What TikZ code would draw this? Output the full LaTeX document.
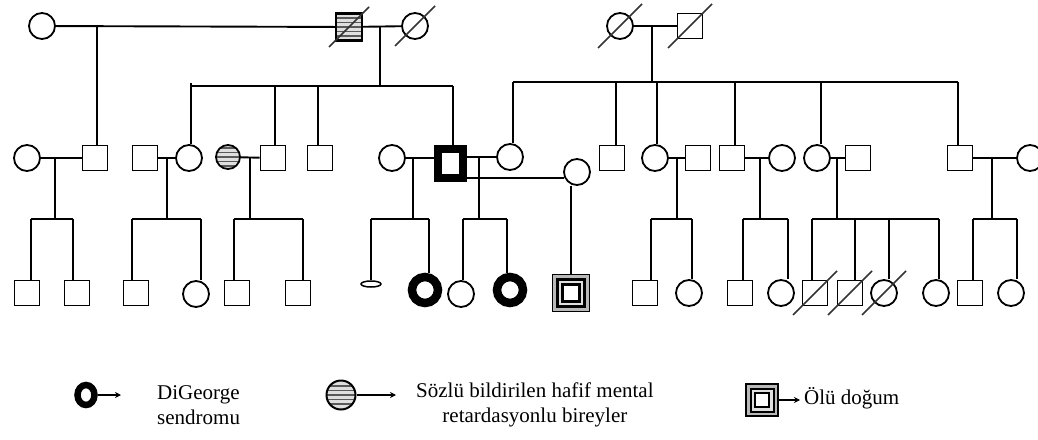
\documentclass[tikz,border=0pt]{standalone}
\usepackage{fontspec}
\setmainfont{Liberation Serif}
\usetikzlibrary{arrows.meta,shapes.geometric}
\tikzset{
  ln/.style={line width=1.9pt},
  male/.style={draw, line width=1.8pt, rectangle, minimum size=25pt, inner sep=0pt, fill=white},
  female/.style={draw, line width=1.8pt, circle, minimum size=26pt, inner sep=0pt, fill=white},
  boldc/.style={draw, circle, line width=8.5pt, minimum size=26pt, inner sep=0pt},
  stripes/.style={path picture={
    \fill[gray!25] (path picture bounding box.south west) rectangle (path picture bounding box.north east);
    \foreach \d in {-9,-4.5,0,4.5,9}{\draw[black!65, line width=1.6pt] ([yshift=\d pt]path picture bounding box.west) -- ([yshift=\d pt]path picture bounding box.east);}
  }},
  slash/.style={line width=1.5pt, black!80},
  arr/.style={line width=1.8pt, -{Stealth[length=6pt,width=6pt]}},
  legtext/.style={font=\fontsize{21}{25}\selectfont, inner sep=0pt},
}
\newcommand{\deceased}[2][20]{\draw[slash] ([shift={(-#1,#1)}]#2.center) -- ([shift={(#1,-#1)}]#2.center);}
\begin{document}
\begin{tikzpicture}[x=1pt,y=-1pt]
\useasboundingbox (0,0) rectangle (1038,439);
% ---------- Generation I ----------
\node[female] (I1) at (42,26) {};
\node[male, line width=2.4pt, minimum width=26pt, minimum height=27pt, stripes] (I2) at (349,27) {};
\node[female] (I3) at (415,26) {};
\node[female] (I4) at (620,26) {};
\node[male] (I5) at (690,26) {};
\draw[ln] (I1) -- (I2);
\draw[ln] (I2) -- (I3);
\draw[ln] (I4) -- (I5);
\deceased{I2}\deceased{I3}\deceased[22]{I4}\deceased[22]{I5}
\coordinate (j1) at (97,26);
\coordinate (j2) at (380,26);
\coordinate (j3) at (652,26);
% ---------- Generation II ----------
\node[female] (II1) at (27,158) {};
\node[male] (II2) at (95,158) {};
\node[male] (II3) at (145,158) {};
\node[female] (II4) at (189,158) {};
\node[female, minimum size=24pt, stripes] (II5) at (228,157) {};
\node[male] (II6) at (273,158) {};
\node[male] (II7) at (320,158) {};
\node[female] (II8) at (392,158) {};
\node[draw, line width=8pt, minimum width=25pt, minimum height=29pt, inner sep=0pt] (II9) at (450,163) {};
\node[female] (II10) at (510,157) {};
\node[female] (II11) at (577,172) {};
\node[male] (II12) at (612,158) {};
\node[female] (II13) at (655,158) {};
\node[male] (II14) at (698,158) {};
\node[male] (II15) at (732,158) {};
\node[female] (II16) at (782,158) {};
\node[female] (II17) at (817,158) {};
\node[male] (II18) at (858,158) {};
\node[male] (II19) at (960,158) {};
\node[female] (II20) at (1030,158) {};
% left sibship (from I2 x I3)
\coordinate (bL1) at (191,86);
\coordinate (bL0) at (191,83);
\coordinate (bL2) at (453,86);
\draw[ln] (j2) -- (j2 |- bL1);
\draw[ln] (bL1) -- (bL2);
\draw[ln] (bL0) -- (bL0 |- II4.north);
\coordinate (c6) at (275,86); \draw[ln] (c6) -- (c6 |- II6.north);
\coordinate (c7) at (318,86); \draw[ln] (c7) -- (c7 |- II7.north);
\draw[ln] (bL2) -- (bL2 |- II9.north);
% I1 x I2 child
\draw[ln] (j1) -- (j1 |- II2.north);
% right sibship (from I4 x I5)
\coordinate (bR1) at (513,82);
\coordinate (bR2) at (958,82);
\draw[ln] (j3) -- (j3 |- bR1);
\draw[ln] (bR1) -- (bR2);
\draw[ln] (bR1) -- (bR1 |- II10.north);
\coordinate (c12) at (616,82); \draw[ln] (c12) -- (c12 |- II12.north);
\coordinate (c13) at (657,82); \draw[ln] (c13) -- (c13 |- II13.north);
\coordinate (c15) at (735,82); \draw[ln] (c15) -- (c15 |- II15.north);
\coordinate (c17) at (821,82); \draw[ln] (c17) -- (c17 |- II17.north);
\draw[ln] (bR2) -- (bR2 |- II19.north);
% marriages generation II
\draw[ln] (II1) -- (II2);
\draw[ln] (II3) -- (II4);
\draw[ln] (II5) -- (II6);
\draw[ln] (II8) -- (II8 -| II9.west);
\draw[ln] (II9.east |- II10) -- (II10);
\draw[ln] (II11.205 -| II9.east) -- (II11.205);
\draw[ln] (II13) -- (II14);
\draw[ln] (II15) -- (II16);
\draw[ln] (II17) -- (II18);
\draw[ln] (II19) -- (II20);
% ---------- Generation III ----------
\node[male] (III1) at (27,293) {};
\node[male] (III2) at (77,293) {};
\node[male] (III3) at (136,293) {};
\node[female] (III4) at (196,294) {};
\node[male] (III5) at (237,293) {};
\node[male] (III6) at (298,293) {};
\node[draw, ellipse, line width=1.5pt, minimum width=20pt, minimum height=6pt, inner sep=0pt] (III7) at (371,284) {};
\node[boldc] (III8) at (425,290) {};
\node[female] (III9) at (461,294) {};
\node[boldc] (III10) at (510,290) {};
\node[draw, line width=1.8pt, minimum size=37pt, inner sep=0pt, fill=gray!55] (III11) at (571,293) {};
\node[draw, line width=2.2pt, minimum size=27pt, inner sep=0pt, fill=gray!25] (III11b) at (III11) {};
\node[draw, line width=2.8pt, minimum size=17pt, inner sep=0pt, fill=white] (III11c) at (III11) {};
\node[male] (III12) at (645,293) {};
\node[female] (III13) at (689,293) {};
\node[male] (III14) at (740,293) {};
\node[female] (III15) at (781,293) {};
\node[male] (III16) at (815,293) {};
\node[male] (III17) at (850,293) {};
\node[female] (III18) at (884,293) {};
\node[female] (III19) at (936,293) {};
\node[male] (III20) at (970,293) {};
\node[female] (III21) at (1011,293) {};
\deceased[22]{III16}\deceased[22]{III17}\deceased[22]{III18}
% families
% A: II1 x II2
\coordinate (mA) at (55,158); \coordinate (a1) at (31,219); \coordinate (a2) at (73,219);
\draw[ln] (mA) -- (mA |- a1); \draw[ln] (a1) -- (a2);
\draw[ln] (a1) -- (a1 |- III1.north); \draw[ln] (a2) -- (a2 |- III2.north);
% B: II3 x II4
\coordinate (mB) at (167,158); \coordinate (b1) at (132,219); \coordinate (b2) at (201,219);
\draw[ln] (mB) -- (mB |- b1); \draw[ln] (b1) -- (b2);
\draw[ln] (b1) -- (b1 |- III3.north); \draw[ln] (b2) -- (b2 |- III4.north);
% C: II5 x II6
\coordinate (mC) at (250,158); \coordinate (cc1) at (234,219); \coordinate (cc2) at (303,219);
\draw[ln] (mC) -- (mC |- cc1); \draw[ln] (cc1) -- (cc2);
\draw[ln] (cc1) -- (cc1 |- III5.north); \draw[ln] (cc2) -- (cc2 |- III6.north);
% D: II8 x II9
\coordinate (mD) at (413,158); \coordinate (d1) at (371,219); \coordinate (d2) at (429,219);
\draw[ln] (mD) -- (mD |- d1); \draw[ln] (d1) -- (d2);
\draw[ln] (d1) -- (III7.north); \draw[ln] (d2) -- (d2 |- III8.north);
% E: II9 x II10
\coordinate (mE) at (479,157); \coordinate (e1) at (463,219); \coordinate (e2) at (507,219);
\draw[ln] (mE) -- (mE |- e1); \draw[ln] (e1) -- (e2);
\draw[ln] (e1) -- (e1 |- III9.north); \draw[ln] (e2) -- (e2 |- III10.north);
% II9 x II11 -> stillbirth
\draw[ln] (II11.south -| III11.north) -- (III11.north);
% F: II13 x II14
\coordinate (mF) at (677,158); \coordinate (f1) at (651,219); \coordinate (f2) at (692,219);
\draw[ln] (mF) -- (mF |- f1); \draw[ln] (f1) -- (f2);
\draw[ln] (f1) -- (f1 |- III12.north); \draw[ln] (f2) -- (f2 |- III13.north);
% G: II15 x II16
\coordinate (mG) at (760,158); \coordinate (g1) at (743,219); \coordinate (g2) at (788,219);
\draw[ln] (mG) -- (mG |- g1); \draw[ln] (g1) -- (g2);
\draw[ln] (g1) -- (g1 |- III14.north); \draw[ln] (g2) -- (g2 |- III15.north);
% H: II17 x II18
\coordinate (mH) at (837,158); \coordinate (h1) at (812,219); \coordinate (h2) at (855,219);
\coordinate (h3) at (889,219); \coordinate (h4) at (939,219);
\draw[ln] (mH) -- (mH |- h1); \draw[ln] (h1) -- (h4);
\draw[ln] (h1) -- (h1 |- III16.north); \draw[ln] (h2) -- (h2 |- III17.north);
\draw[ln] (h3) -- (h3 |- III18.north); \draw[ln] (h4) -- (h4 |- III19.north);
% I: II19 x II20
\coordinate (mI) at (992,158); \coordinate (i1) at (973,219); \coordinate (i2) at (1017,219);
\draw[ln] (mI) -- (mI |- i1); \draw[ln] (i1) -- (i2);
\draw[ln] (i1) -- (i1 |- III20.north); \draw[ln] (i2) -- (i2 |- III21.north);
% ---------- Legend ----------
\node[draw, ellipse, line width=6.5pt, minimum width=17pt, minimum height=20pt, inner sep=0pt] (L1) at (86,395) {};
\coordinate (L1a) at (121,395);
\draw[arr] (L1) -- (L1a);
\node[legtext, align=left, anchor=west] (T1) at (157,405) {DiGeorge\\sendromu};
\node[female, minimum size=29pt, line width=2pt, stripes] (L2) at (341,395) {};
\coordinate (L2a) at (396,395);
\draw[arr] (L2) -- (L2a);
\node[legtext, align=center, anchor=west] (T2) at (416,405) {Sözlü bildirilen hafif mental\\retardasyonlu bireyler};
\node[draw, line width=1.6pt, minimum size=32pt, inner sep=0pt, fill=gray!55] (L3) at (762,400) {};
\node[draw, line width=2pt, minimum size=23pt, inner sep=0pt, fill=gray!25] (L3b) at (L3) {};
\node[draw, line width=2.4pt, minimum size=14pt, inner sep=0pt, fill=white] (L3c) at (L3) {};
\coordinate (L3a) at (800,400);
\draw[arr] (L3) -- (L3a);
\node[legtext, anchor=west] (T3) at (804,398) {Ölü doğum};
\end{tikzpicture}
\end{document}
